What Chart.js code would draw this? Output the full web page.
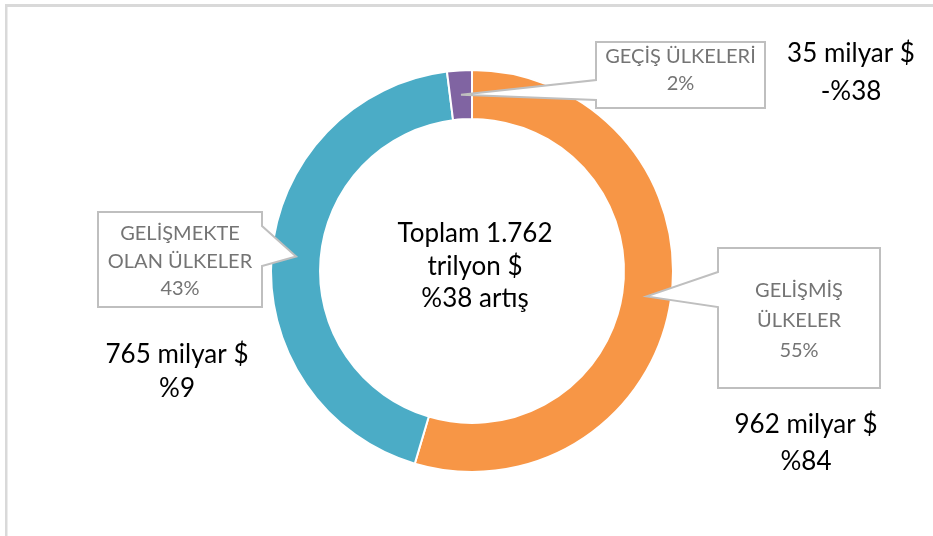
<!DOCTYPE html>
<html>
<head>
<meta charset="utf-8">
<script src="https://cdn.jsdelivr.net/npm/chart.js@4/dist/chart.umd.min.js"></script>
<style>
  html, body { margin: 0; padding: 0; background: #ffffff; }
  #wrap { width: 933px; height: 536px; }
</style>
</head>
<body>
<div id="wrap"><canvas id="c" width="933" height="536"></canvas></div>
<script>
// ---- data ----
const categories = ['GELİŞMİŞ ÜLKELER', 'GELİŞMEKTE OLAN ÜLKELER', 'GEÇİŞ ÜLKELERİ'];
const categoryLines = [['GELİŞMİŞ', 'ÜLKELER'], ['GELİŞMEKTE', 'OLAN ÜLKELER'], ['GEÇİŞ ÜLKELERİ']];
const values = [962, 765, 35];               // milyar $
const shareLabels = ['55%', '43%', '2%'];
const amountLabels = ['962 milyar $', '765 milyar $', '35 milyar $'];
const changeLabels = ['%84', '%9', '-%38'];
const centerLines = ['Toplam 1.762', 'trilyon $', '%38 artış'];
const sliceColors = ['#F79646', '#4BACC6', '#8064A2'];

// ---- layout for callouts (positions only) ----
const calloutLayout = [
  { box: [718, 248, 162, 140], side: 'left',  base: [272, 307], textY: [297, 327, 357], labelX: 806, labelY: [433, 470] },
  { box: [98, 212, 164, 95],   side: 'right', base: [226, 266], textY: [240, 268, 295], labelX: 177, labelY: [363, 397] },
  { box: [596, 42, 169, 66],   side: 'left',  base: [80, 100],  textY: [63, 90],         labelX: 851, labelY: [62, 100] }
];
const centerLineY = [242, 275, 307];
const FONT = 'Lato, "Open Sans", sans-serif';

const framePlugin = {
  id: 'frame',
  beforeDraw(chart) {
    const ctx = chart.ctx;
    ctx.save();
    ctx.fillStyle = '#ffffff';
    ctx.fillRect(0, 0, chart.width, chart.height);
    ctx.fillStyle = '#d9d9d9';
    ctx.fillRect(5, 4, chart.width, 3);
    ctx.fillRect(5, 4, 2.5, chart.height);
    ctx.restore();
  }
};

const calloutPlugin = {
  id: 'callouts',
  afterDatasetsDraw(chart) {
    const ctx = chart.ctx;
    const meta = chart.getDatasetMeta(0);
    ctx.save();
    meta.data.forEach((arc, i) => {
      const p = arc.getProps(['x', 'y', 'startAngle', 'endAngle', 'innerRadius', 'outerRadius'], true);
      const mid = (p.startAngle + p.endAngle) / 2;
      const r = (p.innerRadius + p.outerRadius) / 2;
      const tx = p.x + Math.cos(mid) * r;
      const ty = p.y + Math.sin(mid) * r;
      const L = calloutLayout[i];
      const [bx, by, bw, bh] = L.box;
      ctx.beginPath();
      if (L.side === 'left') {
        ctx.moveTo(bx, by);
        ctx.lineTo(bx + bw, by);
        ctx.lineTo(bx + bw, by + bh);
        ctx.lineTo(bx, by + bh);
        ctx.lineTo(bx, L.base[1]);
        ctx.lineTo(tx, ty);
        ctx.lineTo(bx, L.base[0]);
      } else {
        ctx.moveTo(bx, by);
        ctx.lineTo(bx + bw, by);
        ctx.lineTo(bx + bw, L.base[0]);
        ctx.lineTo(tx, ty);
        ctx.lineTo(bx + bw, L.base[1]);
        ctx.lineTo(bx + bw, by + bh);
        ctx.lineTo(bx, by + bh);
      }
      ctx.closePath();
      ctx.fillStyle = '#ffffff';
      ctx.fill();
      ctx.lineWidth = 2;
      ctx.strokeStyle = '#bfbfbf';
      ctx.lineJoin = 'miter';
      ctx.stroke();

      // category text in box
      const lines = categoryLines[i].concat([shareLabels[i]]);
      ctx.fillStyle = '#747474';
      ctx.font = '20px ' + FONT;
      ctx.textAlign = 'center';
      ctx.textBaseline = 'alphabetic';
      lines.forEach((t, k) => ctx.fillText(t, bx + bw / 2, L.textY[k]));

      // amount and change labels
      ctx.fillStyle = '#000000';
      ctx.font = '26px ' + FONT;
      ctx.fillText(amountLabels[i], L.labelX, L.labelY[0]);
      ctx.fillText(changeLabels[i], L.labelX, L.labelY[1]);
    });

    // center text
    const a0 = meta.data[0];
    ctx.fillStyle = '#000000';
    ctx.font = '26px ' + FONT;
    ctx.textAlign = 'center';
    centerLines.forEach((t, k) => ctx.fillText(t, a0.x + 3, centerLineY[k]));
    ctx.restore();
  }
};

new Chart(document.getElementById('c'), {
  type: 'doughnut',
  data: {
    labels: categories,
    datasets: [{
      data: values,
      backgroundColor: sliceColors,
      borderColor: '#ffffff',
      borderWidth: 2,
      hoverOffset: 0
    }]
  },
  options: {
    responsive: false,
    animation: false,
    cutout: '75.6%',
    rotation: 0,
    layout: { padding: { left: 270, right: 259, top: 69, bottom: 63 } },
    plugins: {
      legend: { display: false },
      tooltip: { enabled: false }
    }
  },
  plugins: [framePlugin, calloutPlugin]
});
</script>
</body>
</html>
